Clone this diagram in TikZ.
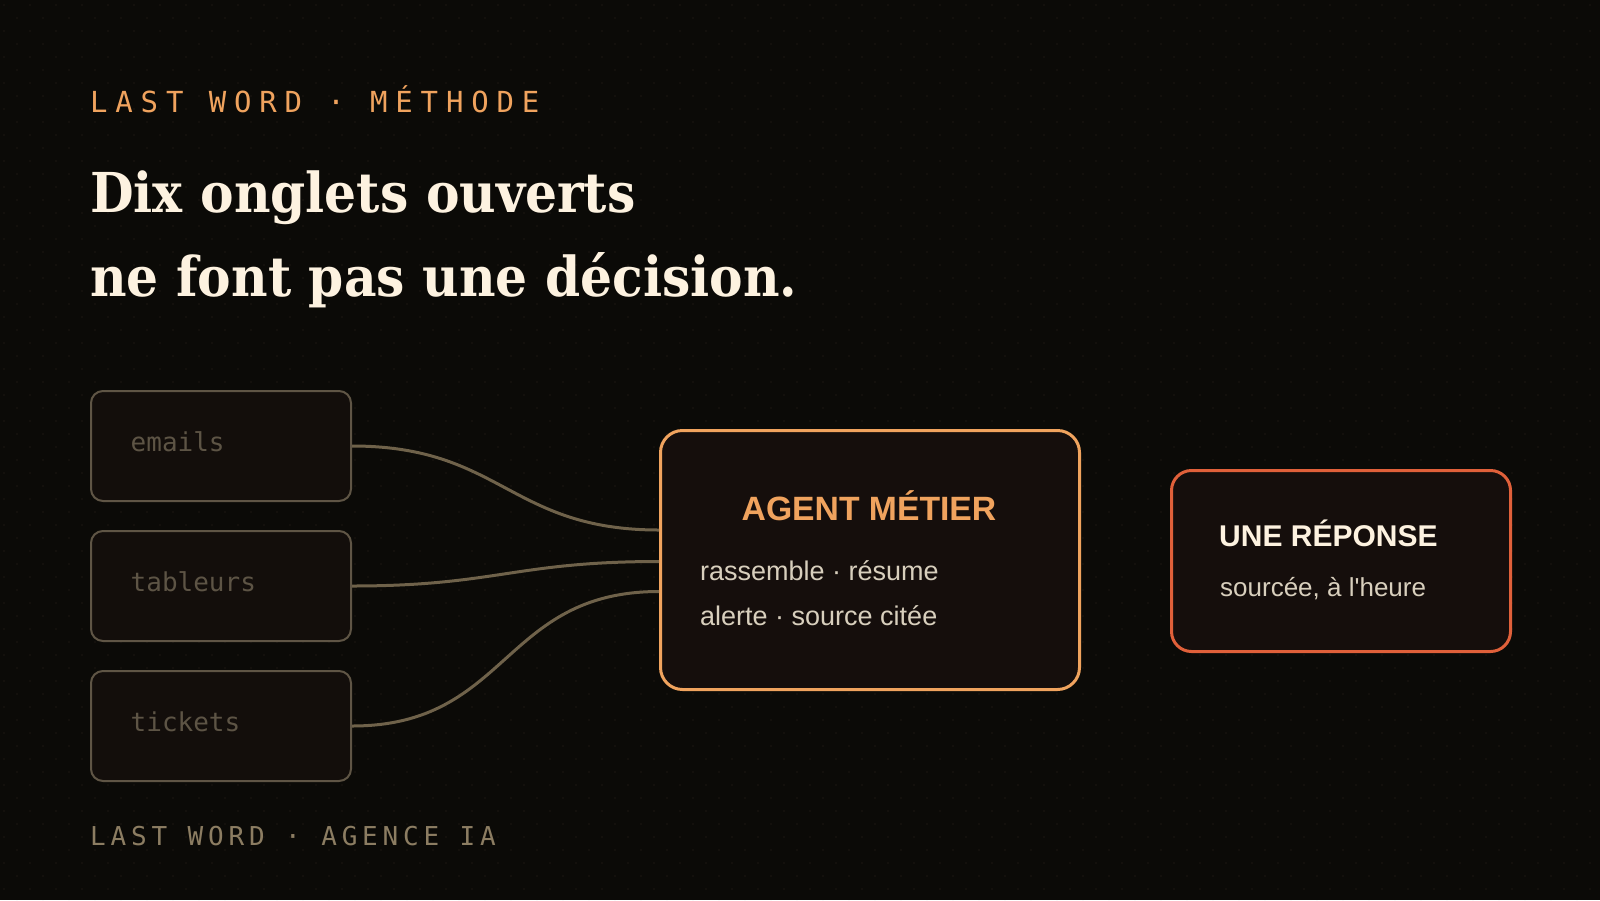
\documentclass[tikz,border=0pt]{standalone}
\usepackage{fontspec}
\usetikzlibrary{positioning,calc}

\newfontfamily\monofont{DejaVu Sans Mono}
\newfontfamily\kickerfont[LetterSpace=27]{DejaVu Sans Mono}
\newfontfamily\footfont[LetterSpace=18.5]{DejaVu Sans Mono}
\newfontfamily\titlefont[FakeStretch=0.915]{DejaVu Serif}
\newfontfamily\sansfont{Liberation Sans}

\definecolor{bgcol}{HTML}{0B0A07}
\definecolor{dotcol}{HTML}{16130E}
\definecolor{srcfill}{HTML}{130E0B}
\definecolor{srcline}{HTML}{5F5545}
\definecolor{srctext}{HTML}{5D5445}
\definecolor{wirecol}{HTML}{6F624A}
\definecolor{accent}{HTML}{F0A35E}
\definecolor{cardfill}{HTML}{150E0C}
\definecolor{replycol}{HTML}{E0603A}
\definecolor{cream}{HTML}{FDF2E0}
\definecolor{softtext}{HTML}{D8CFBD}
\definecolor{footcol}{HTML}{8C7D62}

\begin{document}
\begin{tikzpicture}[x=1pt,y=-1pt,
    srcbox/.style={draw=srcline,line width=2pt,fill=srcfill,rounded corners=12pt,
        minimum width=260pt,minimum height=110pt,inner sep=0pt,anchor=north west},
    srclabel/.style={text=srctext,inner sep=0pt,anchor=base west,
        font=\monofont\fontsize{26}{30}\selectfont},
    agentbox/.style={draw=accent,line width=3pt,fill=cardfill,rounded corners=22pt,
        minimum width=419pt,minimum height=259pt,inner sep=0pt,anchor=north west},
    replybox/.style={draw=replycol,line width=3pt,fill=cardfill,rounded corners=20pt,
        minimum width=339pt,minimum height=181pt,inner sep=0pt,anchor=north west},
    cardline/.style={text=softtext,inner sep=0pt,anchor=base west},
    wire/.style={draw=wirecol,line width=3pt,out=0,in=180,looseness=1.2}]
    \useasboundingbox (0,0) rectangle (1600,900);
    % background and dot grid
    \fill[bgcol] (0,0) rectangle (1600,900);
    \foreach \i in {0,...,61}
        \foreach \j in {0,...,34} {
            \fill[dotcol] (4+26*\i,5+26*\j) circle (1.1pt);
            \fill[dotcol] (17+26*\i,18+26*\j) circle (1.1pt);
        }
    % kicker and headline
    \node[text=accent,inner sep=0pt,anchor=base west,font=\kickerfont\fontsize{29}{34}\selectfont]
        (kicker) at (90,112) {LAST WORD · MÉTHODE};
    \node[text=cream,inner sep=0pt,anchor=base west,font=\titlefont\bfseries\fontsize{55}{66}\selectfont]
        (head1) at (90,212) {Dix onglets ouverts};
    \node[text=cream,inner sep=0pt,anchor=base west,font=\titlefont\bfseries\fontsize{55}{66}\selectfont]
        (head2) at (90,296) {ne font pas une décision.};
    % source boxes
    \node[srcbox] (emails) at (90,390) {};
    \node[srcbox] (tableurs) at (90,530) {};
    \node[srcbox] (tickets) at (90,670) {};
    \foreach \s in {emails,tableurs,tickets}
        \node[srclabel] (\s T) at ([shift={(40.5pt,-5.5pt)}]\s.west) {\s};
    % agent card
    \node[agentbox] (agent) at (659,429) {};
    \node[text=accent,inner sep=0pt,anchor=base,font=\sansfont\bfseries\fontsize{33.7}{40}\selectfont]
        (agentT) at (869,520) {AGENT MÉTIER};
    \node[cardline,font=\sansfont\fontsize{27}{32}\selectfont] (agentA) at (700,580) {rassemble · résume};
    \node[cardline,font=\sansfont\fontsize{27}{32}\selectfont] (agentB) at (700,625) {alerte · source citée};
    % reply card
    \node[replybox] (reply) at (1170,469) {};
    \node[text=cream,inner sep=0pt,anchor=base west,font=\sansfont\bfseries\fontsize{30}{36}\selectfont]
        (replyT) at (1219,546) {UNE RÉPONSE};
    \node[cardline,font=\sansfont\fontsize{26}{31}\selectfont] (replyA) at (1220,596) {sourcée, à l'heure};
    % wires into the agent
    \draw[wire] (emails.east) to ([yshift=30pt]agent.west);
    \draw[wire] (tableurs.east) to ([yshift=-1.5pt]agent.west);
    \draw[wire] (tickets.east) to ([yshift=-31.5pt]agent.west);
    % footer
    \node[text=footcol,inner sep=0pt,anchor=base west,font=\footfont\fontsize{26}{30}\selectfont]
        (foot) at (90,845) {LAST WORD · AGENCE IA};
\end{tikzpicture}
\end{document}
